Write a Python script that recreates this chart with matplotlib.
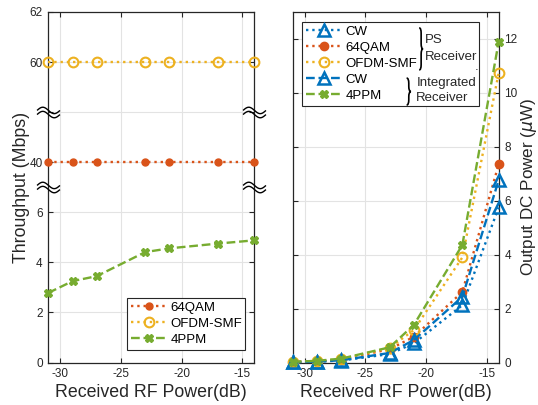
import matplotlib
matplotlib.use('Agg')
import matplotlib.pyplot as plt
import numpy as np
from matplotlib.path import Path
from matplotlib.patches import PathPatch
import matplotlib.transforms as mtransforms

plt.rcParams['font.family'] = ['Liberation Sans', 'DejaVu Sans']
plt.rcParams['mathtext.fontset'] = 'dejavusans'

# ---------------- data ----------------
power_dbm = [-31, -29, -27, -23, -21, -17, -14]

# left panel: throughput (Mbps)
tp_64qam = [40, 40, 40, 40, 40, 40, 40]
tp_ofdm = [60, 60, 60, 60, 60, 60, 60]
tp_4ppm = [2.78, 3.25, 3.45, 4.41, 4.56, 4.75, 4.88]
left_yticks = [0, 2, 4, 6, 40, 60, 62]

# right panel: output DC power (uW)
dc_cw_ps = [0.02, 0.04, 0.08, 0.32, 0.72, 2.13, 5.75]
dc_64qam_ps = [0.02, 0.05, 0.11, 0.50, 0.96, 2.62, 7.35]
dc_ofdm_ps = [0.03, 0.06, 0.13, 0.55, 1.21, 3.90, 10.74]
dc_cw_int = [0.02, 0.04, 0.09, 0.36, 0.84, 2.44, 6.76]
dc_4ppm_int = [0.03, 0.07, 0.15, 0.57, 1.40, 4.36, 11.89]

xticks = [-30, -25, -20, -15]

# ---------------- style ----------------
C_BLUE = '#0072BD'
C_RED = '#D95319'
C_YEL = '#EDB120'
C_GRN = '#77AC30'
DARK = '#262626'
GRID = '#e3e3e3'
LW = 1.7
TICK_FS = 8.5
LABEL_FS = 12.8
LEG_FS = 9.5

# broken-axis mapping: (real_lo, real_hi) -> (axis_lo, axis_hi)
segments = [((0, 7), (0, 7)), ((39, 42), (7, 10)), ((58, 62), (10, 14))]


def to_axis(v):
    v = np.asarray(v, dtype=float)
    out = np.full(v.shape, np.nan)
    for (r0, r1), (a0, a1) in segments:
        m = (v >= r0) & (v <= r1)
        out[m] = a0 + (v[m] - r0) * (a1 - a0) / (r1 - r0)
    return out


fig = plt.figure(figsize=(5.38, 4.05), dpi=100)
W, H = 538, 405


def axes_rect(x0, x1, ytop, ybot):
    return [x0 / W, 1 - ybot / H, (x1 - x0) / W, (ybot - ytop) / H]


ax1 = fig.add_axes(axes_rect(48.3, 254.3, 12, 362.5))
ax2 = fig.add_axes(axes_rect(292.7, 498.7, 11.7, 362.7))

for ax in (ax1, ax2):
    ax.set_xlim(-31, -14)
    ax.set_xticks(xticks)
    ax.set_xticklabels([str(t) for t in xticks])
    ax.grid(True, color=GRID, lw=0.8)
    ax.set_axisbelow(True)
    for s in ax.spines.values():
        s.set_color(DARK)
        s.set_linewidth(0.9)
    ax.tick_params(direction='in', length=3.5, width=0.8, colors=DARK,
                   labelsize=TICK_FS, top=True, right=True, left=True, pad=4)
    ax.set_xlabel('Received RF Power(dB)', fontsize=LABEL_FS, color=DARK, labelpad=3)

# ---------------- left panel ----------------
ax1.plot(power_dbm, to_axis(tp_64qam), ls=':', lw=LW, color=C_RED,
         marker='o', ms=5, mfc=C_RED, mec=C_RED, label='64QAM', clip_on=False, zorder=3)
ax1.plot(power_dbm, to_axis(tp_ofdm), ls=':', lw=LW, color=C_YEL,
         marker='o', ms=7, mfc='none', mec=C_YEL, mew=1.5, label='OFDM-SMF', clip_on=False, zorder=3)
ax1.plot(power_dbm, to_axis(tp_4ppm), ls='--', lw=LW, color=C_GRN,
         marker='X', ms=6, mfc=C_GRN, mec=C_GRN, label='4PPM', clip_on=False, zorder=3)
ax1.set_ylim(0, 14)
ytk = list(to_axis(left_yticks)) + [10]
ax1.set_yticks(ytk)
ax1.set_yticklabels([str(t) for t in left_yticks] + [''])
ax1.set_ylabel('Throughput (Mbps)', fontsize=LABEL_FS, color=DARK)
ax1.yaxis.set_label_coords(-0.09, 0.5)

# break markers
t = np.linspace(-1, 1, 40)
wave_y = -0.28 * np.sin(np.pi * t)
bverts = np.concatenate([np.column_stack([t, wave_y + 0.18]),
                         np.column_stack([t, wave_y - 0.18])])
bcodes = ([Path.MOVETO] + [Path.LINETO] * (len(t) - 1)) * 2
brk_marker = Path(bverts, bcodes)
btrans = mtransforms.blended_transform_factory(ax1.transAxes, ax1.transData)
for yb in (7, 10):
    ax1.plot([0, 1], [yb, yb], ls='none', marker=brk_marker, ms=16.5,
             mfc='none', mec='black', mew=1.0, transform=btrans, clip_on=False, zorder=6)

leg_kw = dict(mode='expand', borderaxespad=0, fontsize=LEG_FS, handlelength=2.8,
              handletextpad=0.2, labelspacing=0.28, borderpad=0.3,
              fancybox=False, framealpha=1, edgecolor=DARK)
leg1 = ax1.legend(loc='upper left', bbox_to_anchor=(0.381, 0.0, 0.574, 0.185), **leg_kw)
leg1.get_frame().set_linewidth(0.8)

# ---------------- right panel ----------------
ax2.plot(power_dbm, dc_cw_ps, ls=':', lw=LW, color=C_BLUE, marker='^', ms=8,
         mfc='none', mec=C_BLUE, mew=1.8, label='CW', clip_on=False, zorder=3)
ax2.plot(power_dbm, dc_64qam_ps, ls=':', lw=LW, color=C_RED, marker='o', ms=6,
         mfc=C_RED, mec=C_RED, label='64QAM', clip_on=False, zorder=3)
ax2.plot(power_dbm, dc_ofdm_ps, ls=':', lw=LW, color=C_YEL, marker='o', ms=7,
         mfc='none', mec=C_YEL, mew=1.5, label='OFDM-SMF', clip_on=False, zorder=3)
ax2.plot(power_dbm, dc_cw_int, ls='--', lw=LW, color=C_BLUE, marker='^', ms=8,
         mfc='none', mec=C_BLUE, mew=1.8, label='CW', clip_on=False, zorder=3)
ax2.plot(power_dbm, dc_4ppm_int, ls='--', lw=LW, color=C_GRN, marker='X', ms=6,
         mfc=C_GRN, mec=C_GRN, label='4PPM', clip_on=False, zorder=3)
ax2.set_ylim(0, 13)
ax2.set_yticks([0, 2, 4, 6, 8, 10, 12])
ax2.tick_params(labelleft=False, labelright=True)
ax2.yaxis.set_label_position('right')
ax2.set_ylabel(r'Output DC Power ($\mu$W)', fontsize=12.3, color=DARK)
ax2.yaxis.set_label_coords(1.097, 0.5)

leg2 = ax2.legend(loc='upper left', bbox_to_anchor=(0.045, 0.0, 0.858, 0.971), **leg_kw)
leg2.get_frame().set_linewidth(0.8)


def brace(ax, x0, x1, ytop, ybot, r=0.015):
    xm = (x0 + x1) / 2
    ym = (ytop + ybot) / 2
    verts = [(x0, ytop), (xm, ytop), (xm, ytop - r), (xm, ym + r),
             (xm, ym), (x1, ym), (xm, ym), (xm, ym - r),
             (xm, ybot + r), (xm, ybot), (x0, ybot)]
    codes = [Path.MOVETO, Path.CURVE3, Path.CURVE3, Path.LINETO,
             Path.CURVE3, Path.CURVE3, Path.CURVE3, Path.CURVE3,
             Path.LINETO, Path.CURVE3, Path.CURVE3]
    ax.add_patch(PathPatch(Path(verts, codes), fill=False, lw=1.2, ec='black',
                           transform=ax.transAxes, clip_on=False, zorder=10))


brace(ax2, 0.614, 0.633, 0.954, 0.834)
brace(ax2, 0.553, 0.574, 0.811, 0.734)
tk = dict(transform=ax2.transAxes, fontsize=LEG_FS, color=DARK, zorder=11, va='center', ha='left')
ax2.text(0.640, 0.919, 'PS', **tk)
ax2.text(0.640, 0.872, 'Receiver', **tk)
ax2.text(0.600, 0.797, 'Integrated', **tk)
ax2.text(0.600, 0.754, 'Receiver', **tk)
ax2.text(0.884, 0.842, '.', **tk)

fig.savefig('out.png', dpi=100)
